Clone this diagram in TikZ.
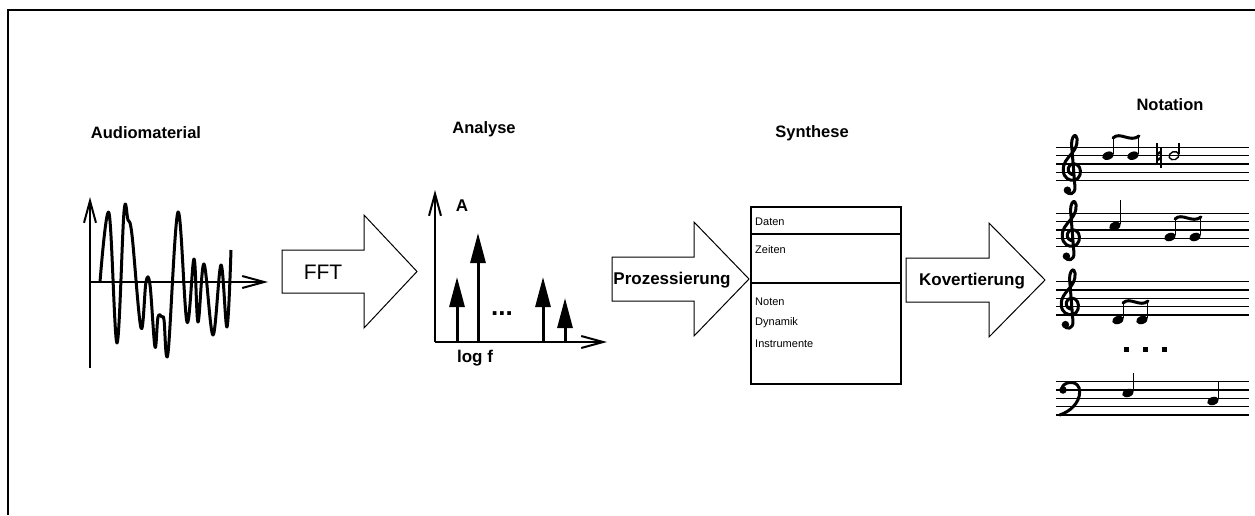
\documentclass[tikz,border=0pt]{standalone}
\usepackage{fontspec}
\setmainfont{Liberation Sans}
\usetikzlibrary{arrows.meta, shapes.geometric}
\tikzset{
    title/.style={font=\fontsize{16.5}{20}\selectfont\bfseries},
    step label/.style={font=\fontsize{17}{20}\selectfont\bfseries},
    small text/.style={font=\fontsize{11}{13}\selectfont, anchor=west, inner sep=0pt},
    fat arrow/.style={draw=black, line width=1pt, fill=white, line join=miter},
    axis/.style={line width=2.5pt, -{Straight Barb[length=22pt, width=12pt, line width=2pt]}},
    peak/.style={line width=3pt, -{Triangle[length=30pt, width=15pt]}},
    staff line/.style={line width=1.4pt},
    head/.style={fill=black, ellipse, minimum width=12pt, minimum height=8pt, inner sep=0pt, rotate=20},
    stem/.style={line width=1.4pt},
    beam/.style={line width=3pt, line cap=round},
    treble clef/.pic={
        \fill[x=8.33pt, y=8.33pt] (-0.55,-2.15) circle (0.45);
        \draw[line width=3pt, line cap=round, line join=round, x=8.33pt, y=8.33pt]
            (-0.75,-2.1) .. controls (-0.5,-2.9) and (0.45,-2.7) .. (0.35,-1.7)
            -- (-0.05,3.3)
            .. controls (-0.1,4.0) and (0.25,4.6) .. (0.45,4.4)
            .. controls (0.8,4.0) and (0.6,3.0) .. (0.0,2.3)
            .. controls (-0.6,1.6) and (-1.1,1.1) .. (-1.05,0.2)
            .. controls (-1.0,-0.7) and (-0.3,-1.05) .. (0.3,-0.95)
            .. controls (1.0,-0.8) and (1.15,0.1) .. (0.9,0.6)
            .. controls (0.6,1.2) and (-0.3,1.2) .. (-0.45,0.5)
            .. controls (-0.55,0.0) and (-0.1,-0.3) .. (0.2,-0.3);
    },
    bass clef/.pic={
        \fill[x=8.33pt, y=8.33pt] (0,0) circle (0.45);
        \draw[line width=3pt, line cap=round, x=8.33pt, y=8.33pt]
            (-0.1,0.35) .. controls (0.3,1.15) and (2.0,1.2) .. (2.0,-0.2)
            .. controls (2.0,-1.6) and (0.8,-2.6) .. (-0.4,-3.0);
    },
}
\begin{document}
\begin{tikzpicture}[x=1pt, y=-1pt]
    \useasboundingbox (0,0) rectangle (1255,515);
    % frame
    \draw[line width=1.5pt] (1255,10) -- (8,10) -- (8,515);

    % titles
    \node[title] (tAudio) at (146,133) {Audiomaterial};
    \node[title] (tAna) at (484,129) {Analyse};
    \node[title] (tSyn) at (812,133) {Synthese};
    \node[title] (tNot) at (1170,105) {Notation};

    % audio signal
    \coordinate (wO) at (90,282);
    \draw[axis] (90,368) -- (90,197);
    \draw[axis] (wO) -- (268,282);
    \draw[line width=3pt, line join=round] plot[smooth, tension=0.6] coordinates {
        (100,282) (109,213) (117,343) (124,212) (128,220) (132,235) (141,328)
        (146,282) (150,285) (155,347) (158,317) (162,317) (164,320) (168,353)
        (178,212) (187,322) (194,259) (198,322) (204,264) (213,335) (221,265)
        (227,327) (231,250)};

    % FFT
    \draw[fat arrow] (282,250) -- (364,250) -- (364,215) -- (417,271.5) -- (364,328) -- (364,293) -- (282,293) -- cycle;
    \node[font=\fontsize{21}{24}\selectfont] (fft) at (323,272) {FFT};

    % spectrum
    \coordinate (sO) at (435,342);
    \draw[axis] (sO) -- (435,190);
    \draw[axis] (sO) -- (607,342);
    \node[step label] (amp) at (462,206) {A};
    \node[step label] (logf) at (475,358) {log f};
    \draw[peak] (457,342) -- (457,277);
    \draw[peak] (478,342) -- (478,233);
    \draw[peak] (543,342) -- (543,277);
    \draw[peak] (565,342) -- (565,298);
    \node[font=\fontsize{26}{26}\selectfont\bfseries] (dots) at (502,314) {...};

    % Prozessierung
    \draw[fat arrow] (612,257) -- (694,257) -- (694,222) -- (749,279) -- (694,336) -- (694,301) -- (612,301) -- cycle;
    \node[step label] (proz) at (672,280) {Prozessierung};

    % synthesis data
    \node[draw, line width=1.2pt, minimum width=150pt, minimum height=177pt, inner sep=0pt] (synth) at (826,295.5) {};
    \draw[line width=1.2pt] (751,234) -- (901,234);
    \draw[line width=1.2pt] (751,283) -- (901,283);
    \node[small text] (daten) at (755,222) {Daten};
    \node[small text] (zeiten) at (755,250) {Zeiten};
    \node[small text] (noten) at (755,302) {Noten};
    \node[small text] (dyn) at (755,323) {Dynamik};
    \node[small text] (instr) at (755,344) {Instrumente};

    % Kovertierung
    \draw[fat arrow] (906,258) -- (989,258) -- (989,223) -- (1045,280) -- (989,337) -- (989,302) -- (906,302) -- cycle;
    \node[step label] (konv) at (972,281) {Kovertierung};

    % notation
    \foreach \sy in {147.3, 213.3, 281.7, 381.7} {
        \foreach \i in {0,...,4} {
            \draw[staff line] (1056,\sy+\i*8.33) -- (1249,\sy+\i*8.33);
        }
    }
    \pic (clef1) at (1072,172.3) {treble clef};
    \pic (clef2) at (1071,238.3) {treble clef};
    \pic (clef3) at (1070,306.7) {treble clef};
    \pic (clef4) at (1063,390) {bass clef};

    % staff 1
    \node[head] (n1) at (1108,155.7) {};
    \node[head] (n2) at (1133,155.7) {};
    \draw[stem] (1113.5,154) -- (1113.5,137);
    \draw[stem] (1138.5,154) -- (1138.5,137);
    \draw[beam] (1113,138) .. controls (1120,131) and (1130,143) .. (1139,136);
    \draw[line width=1.2pt] (1157,143) -- (1157,163);
    \draw[line width=1.2pt] (1161,148) -- (1161,168);
    \draw[line width=2.5pt] (1157,154) -- (1161,152);
    \draw[line width=2.5pt] (1157,160) -- (1161,158);
    \node[draw, line width=1.4pt, ellipse, minimum width=10pt, minimum height=8pt, inner sep=0pt, rotate=20] (n3) at (1174,155.7) {};
    \draw[stem] (1179,154) -- (1179,143);

    % staff 2
    \node[head] (n4) at (1115,226) {};
    \draw[stem] (1120.5,224) -- (1120.5,200);
    \node[head] (n5) at (1170,237) {};
    \node[head] (n6) at (1195,237) {};
    \draw[stem] (1175.5,235) -- (1175.5,218);
    \draw[stem] (1200.5,235) -- (1200.5,218);
    \draw[beam] (1175,219) .. controls (1182,212) and (1192,224) .. (1201,217);

    % staff 3
    \node[head] (n7) at (1118,320) {};
    \node[head] (n8) at (1142,320) {};
    \draw[stem] (1123.5,318) -- (1123.5,302);
    \draw[stem] (1147.5,318) -- (1147.5,302);
    \draw[beam] (1123,303) .. controls (1130,296) and (1140,308) .. (1148,301);

    \foreach \dx in {1126,1145,1164} {
        \fill (\dx-2.5,346.5) rectangle (\dx+2.5,351.5);
    }

    % staff 4
    \node[head] (n9) at (1128,393) {};
    \draw[stem] (1133.5,391) -- (1133.5,373);
    \node[head] (n10) at (1213,401) {};
    \draw[stem] (1218.5,399) -- (1218.5,382);
\end{tikzpicture}
\end{document}
